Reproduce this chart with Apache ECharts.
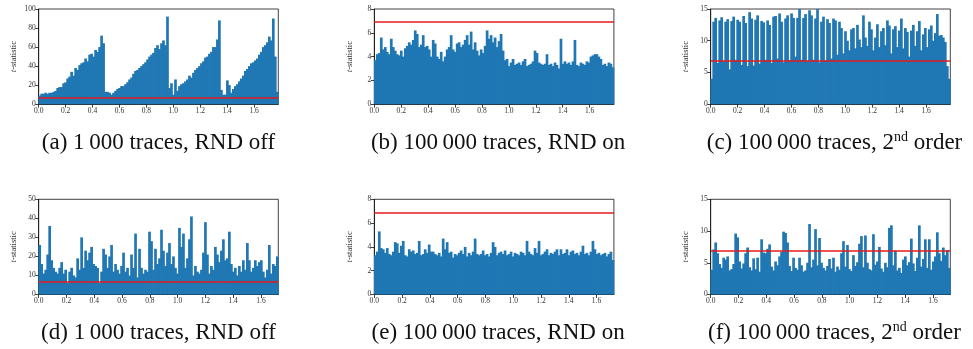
<!DOCTYPE html>
<html>
<head>
<meta charset="utf-8">
<title>t-statistic traces</title>
<script src="https://cdn.jsdelivr.net/npm/echarts@6/dist/echarts.min.js"></script>
<style>
  html, body { margin: 0; padding: 0; background: #fff; }
  #chart { width: 973px; height: 349px; }
</style>
</head>
<body>
<div id="chart"></div>
<script>
// t-statistic per sample (120 samples per trace)
const tA = [9, 11, 11, 12, 11, 12, 12, 13, 14, 17, 18, 18, 22, 23, 27, 29, 34, 30, 38, 36,
  41, 43, 44, 48, 45, 52, 53, 50, 57, 55, 60, 72, 64, 13, 13, 12, 10, 12, 14, 16,
  17, 19, 19, 21, 23, 26, 28, 32, 35, 36, 38, 40, 42, 44, 47, 50, 52, 54, 59, 62,
  58, 64, 67, 62, 92, 17, 22, 10, 26, 14, 19, 21, 22, 24, 26, 30, 28, 33, 36, 38,
  40, 43, 45, 49, 50, 53, 55, 60, 60, 68, 88, 15, 10, 10, 25, 20, 12, 16, 19, 21,
  24, 27, 30, 35, 37, 40, 43, 44, 46, 48, 52, 55, 60, 62, 65, 71, 67, 90, 50, 13]
const tB = [3.7, 4.2, 4.3, 5.6, 4.6, 4.8, 4.4, 4.2, 5.5, 4.8, 4.5, 4.2, 4.1, 4.5, 4.0, 4.7, 4.9, 5.2, 5.0, 5.4,
  6.2, 5.9, 4.8, 5.0, 5.8, 4.8, 4.9, 4.6, 4.0, 5.4, 5.1, 4.0, 3.8, 4.4, 3.6, 4.0, 4.6, 4.8, 5.8, 4.6,
  4.4, 5.1, 5.2, 4.8, 5.0, 5.4, 5.8, 5.0, 6.1, 4.6, 5.2, 4.5, 4.1, 4.6, 4.3, 4.9, 6.2, 5.5, 5.8, 5.2,
  5.6, 4.8, 5.3, 5.9, 4.5, 3.7, 3.8, 3.2, 3.5, 3.8, 3.3, 3.4, 3.5, 3.3, 3.6, 3.8, 3.2, 3.3, 3.4, 3.6,
  4.5, 4.3, 3.5, 3.4, 3.3, 3.4, 4.2, 3.3, 3.4, 3.2, 3.5, 3.3, 3.0, 5.5, 3.4, 3.6, 3.4, 3.5, 3.3, 3.6,
  5.4, 3.3, 3.2, 3.5, 3.4, 3.3, 3.6, 3.5, 4.0, 4.1, 4.2, 4.2, 4.0, 3.8, 3.3, 3.4, 3.2, 3.5, 3.4, 3.1]
const tC = [4.0, 13.0, 13.6, 6.5, 13.2, 13.7, 6.8, 13.0, 13.4, 5.5, 13.1, 13.8, 7.0, 13.3, 13.0, 6.2, 13.9, 12.8, 6.0, 14.5,
  13.5, 6.1, 13.3, 14.0, 6.4, 13.1, 12.9, 7.0, 13.2, 12.5, 6.5, 13.8, 13.9, 7.2, 14.3, 13.0, 6.6, 13.5, 14.0, 6.9,
  14.3, 13.6, 7.5, 13.6, 15.0, 7.0, 13.6, 14.2, 6.8, 14.8, 14.0, 7.0, 13.5, 15.0, 6.6, 13.0, 13.8, 6.9, 13.4, 12.8,
  7.2, 13.5, 13.2, 7.8, 13.0, 12.0, 8.0, 11.5, 10.0, 8.5, 11.8, 12.0, 8.8, 12.5, 10.2, 9.0, 14.0, 10.5, 9.2, 13.0,
  11.8, 8.5, 10.5, 12.6, 9.0, 11.5, 12.0, 9.3, 13.2, 12.4, 8.0, 11.8, 12.3, 9.0, 11.6, 13.5, 8.8, 12.0, 11.4, 7.5,
  11.6, 12.5, 9.2, 11.5, 13.1, 8.5, 11.0, 12.0, 9.0, 11.8, 12.4, 10.0, 11.2, 14.2, 10.8, 10.9, 10.5, 9.8, 6.0, 4.0]
const tD = [26, 16, 11, 13, 21, 36, 18, 14, 12, 11, 14, 17, 11, 13, 6, 12, 14, 10, 9, 19,
  13, 30, 14, 23, 18, 22, 25, 16, 15, 14, 6, 12, 24, 21, 14, 20, 26, 12, 16, 13,
  11, 15, 22, 12, 14, 10, 21, 14, 32, 9, 24, 14, 11, 13, 12, 33, 28, 13, 24, 16,
  19, 34, 23, 15, 22, 27, 16, 20, 14, 11, 35, 25, 32, 14, 19, 29, 41, 10, 15, 12,
  11, 13, 22, 38, 21, 11, 15, 13, 25, 21, 17, 23, 29, 18, 19, 33, 16, 12, 14, 10,
  15, 12, 18, 13, 27, 18, 12, 14, 18, 15, 17, 18, 12, 9, 13, 26, 11, 16, 15, 20]
const tE = [3.3, 3.6, 5.3, 3.9, 3.8, 3.5, 3.9, 3.4, 3.3, 3.6, 4.4, 4.3, 3.5, 4.1, 4.5, 3.3, 3.2, 3.8, 3.6, 3.7,
  3.4, 3.5, 4.5, 3.3, 3.4, 3.8, 3.5, 4.2, 3.6, 3.6, 3.4, 3.3, 3.5, 3.2, 4.7, 3.8, 4.4, 3.5, 3.6, 3.1,
  3.4, 3.3, 3.5, 3.7, 3.4, 4.0, 3.2, 3.5, 3.3, 3.6, 4.7, 3.4, 3.3, 3.4, 3.7, 3.3, 3.4, 3.2, 3.5, 4.4,
  4.0, 3.3, 3.5, 3.6, 3.4, 3.7, 3.3, 3.4, 3.6, 3.2, 3.5, 3.4, 3.3, 3.6, 3.5, 3.3, 4.5, 3.6, 3.4, 3.3,
  3.9, 3.5, 4.5, 3.3, 3.4, 3.6, 3.8, 3.3, 3.5, 3.4, 3.6, 3.8, 3.3, 3.8, 3.4, 3.5, 3.8, 3.3, 3.6, 3.7,
  3.4, 3.5, 3.3, 3.6, 4.1, 3.4, 3.5, 3.3, 3.6, 4.5, 3.8, 3.4, 3.5, 3.3, 3.4, 3.5, 3.2, 3.4, 3.6, 2.9]
const tF = [3.9, 7.1, 8.2, 6.5, 4.8, 4.2, 5.8, 5.5, 6.0, 3.8, 4.0, 4.8, 9.6, 9.0, 5.2, 4.1, 4.9, 6.5, 7.4, 4.3,
  3.8, 5.7, 4.0, 5.8, 3.6, 8.7, 6.6, 6.5, 7.2, 7.9, 4.4, 3.8, 5.2, 4.6, 6.0, 6.7, 9.9, 9.7, 8.2, 4.5,
  3.7, 5.8, 4.2, 3.9, 5.8, 4.6, 3.6, 3.8, 5.0, 11.1, 4.3, 5.5, 10.3, 4.6, 8.9, 5.0, 4.2, 3.8, 4.5, 5.6,
  4.1, 5.8, 3.6, 4.4, 3.9, 6.5, 8.4, 4.4, 7.8, 4.0, 3.7, 6.2, 4.5, 5.1, 8.0, 9.2, 4.3, 9.3, 5.0, 4.0,
  3.8, 9.5, 4.7, 5.2, 7.5, 4.1, 3.6, 5.0, 4.3, 10.5, 10.9, 4.6, 6.9, 3.8, 4.2, 3.4, 5.5, 6.0, 4.6, 5.1,
  8.8, 4.9, 3.7, 5.8, 10.9, 4.4, 5.6, 8.7, 4.2, 8.7, 3.9, 5.2, 6.0, 9.8, 6.5, 5.3, 7.4, 6.2, 7.0, 4.2]

const threshold = 6.9
const xTicks = [0, 0.2, 0.4, 0.6, 0.8, 1.0, 1.2, 1.4, 1.6]
const captions = [
  '{t|(a) 1\u2009000 traces, RND off}',
  '{t|(b) 100\u2009000 traces, RND on}',
  '{t|(c) 100\u2009000 traces, 2}{s|nd}{t| order}',
  '{t|(d) 1\u2009000 traces, RND off}',
  '{t|(e) 100\u2009000 traces, RND on}',
  '{t|(f) 100\u2009000 traces, 2}{s|nd}{t| order}'
]

// trace, time span, y range per panel
const panels = [
  { values: tA, span: 1.78, yMax: 100, yStep: 20 },
  { values: tB, span: 1.78, yMax: 8, yStep: 2 },
  { values: tC, span: 1.78, yMax: 15, yStep: 5 },
  { values: tD, span: 1.725, yMax: 50, yStep: 10 },
  { values: tE, span: 1.725, yMax: 8, yStep: 2 },
  { values: tF, span: 1.725, yMax: 15, yStep: 5 }
]

const lefts = [38.7, 374.3, 710.7]
const tops = [9, 199.3]
const plotW = 239.6
const plotH = 95.2
const serif = '"Liberation Serif", "DejaVu Serif", serif'

const grid = [], xAxis = [], yAxis = [], series = [], graphic = []

panels.forEach((p, i) => {
  const col = i % 3, row = Math.floor(i / 3)
  grid.push({
    left: lefts[col], top: tops[row], width: plotW, height: plotH,
    show: true, borderColor: '#111', borderWidth: 0.8, backgroundColor: 'transparent'
  })
  xAxis.push({
    type: 'value', gridIndex: i, min: 0, max: p.span,
    axisLine: { show: true, onZero: false, lineStyle: { color: '#111', width: 0.8 } },
    axisTick: { show: true, customValues: xTicks, length: 3.5, lineStyle: { color: '#111', width: 0.8 } },
    axisLabel: { customValues: xTicks, formatter: v => v.toFixed(1), color: '#333', fontSize: 7.5, fontFamily: serif, margin: 3 },
    splitLine: { show: false }
  })
  yAxis.push({
    type: 'value', gridIndex: i, min: 0, max: p.yMax, interval: p.yStep,
    name: '{i|t}-statistic', nameLocation: 'middle', nameGap: 20,
    nameTextStyle: {
      color: '#333', fontSize: 8.5, fontFamily: serif,
      rich: { i: { fontStyle: 'italic', fontSize: 8.5, fontFamily: serif, color: '#333' } }
    },
    axisLine: { show: true, lineStyle: { color: '#111', width: 0.8 } },
    axisTick: { show: true, length: 3.5, lineStyle: { color: '#111', width: 0.8 } },
    axisLabel: { color: '#333', fontSize: 7.5, fontFamily: serif, margin: 3 },
    splitLine: { show: false }
  })
  const n = p.values.length
  series.push({
    type: 'bar', xAxisIndex: i, yAxisIndex: i,
    data: p.values.map((v, k) => [(k + 0.5) * p.span / n, v]),
    barWidth: plotW / n + 0.7,
    itemStyle: { color: '#1f77b4' },
    markLine: {
      silent: true, symbol: 'none', label: { show: false },
      lineStyle: { color: '#e41a1c', width: 1.5, type: 'solid' },
      data: [{ yAxis: threshold }]
    }
  })
  graphic.push({
    type: 'text',
    x: lefts[col] + plotW / 2 + [0, 4, 4][col],
    y: row === 0 ? 143 : 333,
    style: {
      text: captions[i], align: 'center', verticalAlign: 'middle',
      rich: {
        t: { fontSize: 23, fontFamily: serif, fill: '#111', color: '#111', lineHeight: 25 },
        s: { fontSize: 14, fontFamily: serif, fill: '#111', color: '#111', verticalAlign: 'top', lineHeight: 25 }
      }
    }
  })
})

const chart = echarts.init(document.getElementById('chart'))
chart.setOption({ animation: false, grid, xAxis, yAxis, series, graphic })
window.addEventListener('resize', () => chart.resize())
</script>
</body>
</html>
